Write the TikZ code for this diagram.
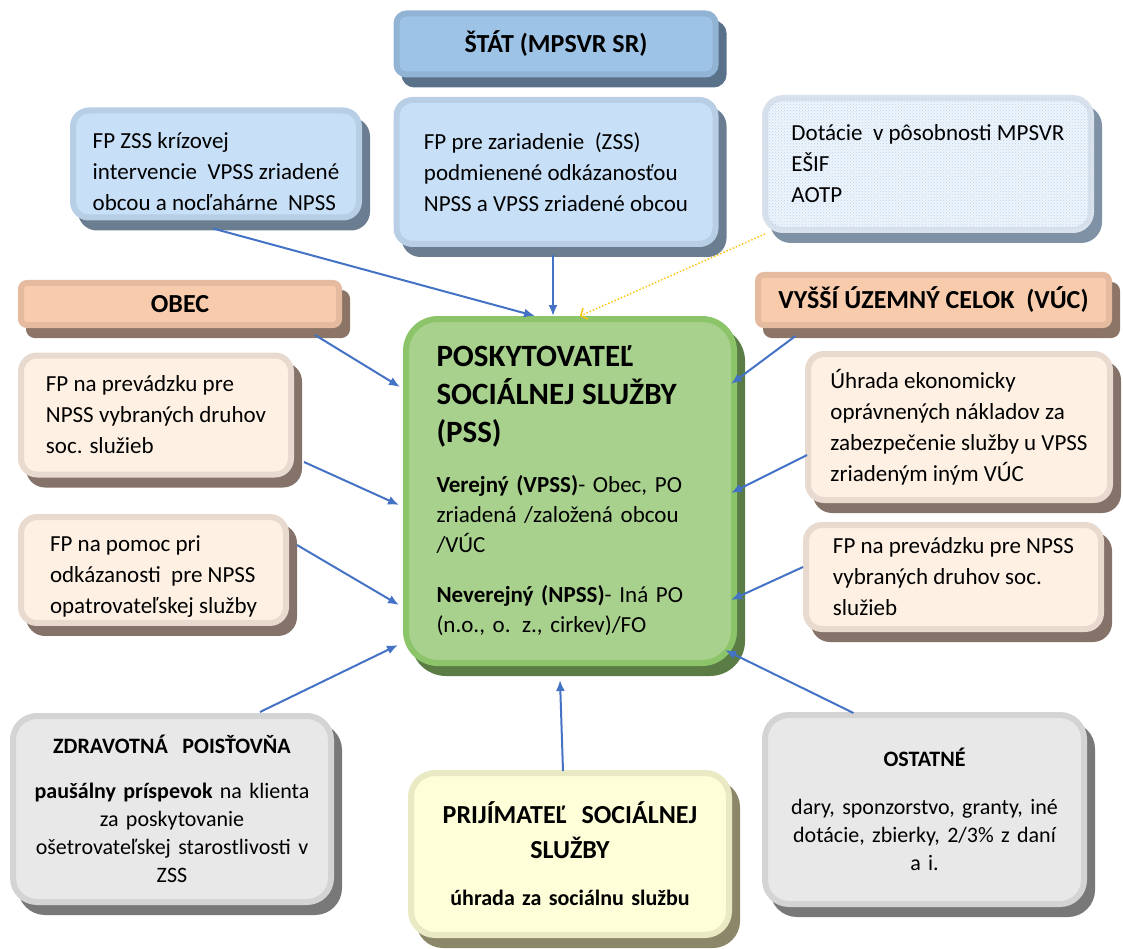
\documentclass[tikz,border=0pt]{standalone}
\usepackage{fontspec}
\setmainfont{Carlito}
\usetikzlibrary{arrows.meta,patterns}

\definecolor{flowblue}{HTML}{4472C4}
\definecolor{aotporange}{HTML}{FFC000}
\definecolor{headblue}{HTML}{9DC3E6}\definecolor{headbluedark}{HTML}{5A718A}
\definecolor{lblue}{HTML}{C8E0F7}\definecolor{lbluedark}{HTML}{6A7D91}
\definecolor{dblue}{HTML}{EDF4FC}\definecolor{dbluedots}{HTML}{BDD3EB}\definecolor{dbluedark}{HTML}{7E91A5}
\definecolor{headpeach}{HTML}{F8CBAD}\definecolor{headpeachdark}{HTML}{8C7467}
\definecolor{lpeach}{HTML}{FEF1E4}\definecolor{lpeachdark}{HTML}{857269}
\definecolor{pssgreen}{HTML}{A9D18E}\definecolor{pssgreendark}{HTML}{5B7D45}\definecolor{pssgreenrim}{HTML}{8CC46A}
\definecolor{lgray}{HTML}{E8E8E8}\definecolor{lgraydark}{HTML}{787878}
\definecolor{lyellow}{HTML}{FEFED8}\definecolor{lyellowdark}{HTML}{8C8769}

\tikzset{
  bevel/.style 2 args={line width=6pt, inner sep=6pt, fill=#1, draw=#1!82!#2,
    preaction={fill=#2, draw=#2, transform canvas={shift={(8pt,-10pt)}}}},
  headfont/.style={font=\fontsize{26}{31}\selectfont\bfseries},
  bodyfont/.style={font=\fontsize{23}{31}\selectfont},
  smallfont/.style={font=\fontsize{22}{28}\selectfont},
  bluehead/.style={bevel={headblue}{headbluedark}, rounded corners=10pt, headfont},
  bluebox/.style={bevel={lblue}{lbluedark}, rounded corners=16pt, align=left, bodyfont},
  dotbox/.style={bevel={dblue}{dbluedark}, rounded corners=18pt, align=left, bodyfont,
    postaction={pattern=crosshatch dots, pattern color=dbluedots}},
  peachhead/.style={bevel={headpeach}{headpeachdark}, rounded corners=6pt, headfont},
  peachbox/.style={bevel={lpeach}{lpeachdark}, rounded corners=16pt, align=left, bodyfont},
  greenbox/.style={bevel={pssgreen}{pssgreendark}, draw=pssgreenrim, rounded corners=32pt,
    text width=267pt, font=\fontsize{23}{30}\selectfont, execute at begin node={\raggedright}},
  graybox/.style={bevel={lgray}{lgraydark}, rounded corners=24pt,
    text width=300pt, smallfont, execute at begin node={\centering}},
  yellowbox/.style={bevel={lyellow}{lyellowdark}, rounded corners=24pt,
    text width=300pt, smallfont, execute at begin node={\centering}},
  flow/.style={flowblue, line width=2pt, -{Latex[length=11pt,width=9pt]}},
  aotp/.style={aotporange, line width=1.4pt, dotted, -{Straight Barb[length=5pt,width=12pt]}}
}

\begin{document}
\begin{tikzpicture}[x=1pt,y=-1pt]
\useasboundingbox (0,0) rectangle (1123,949);

\node[bluehead, minimum width=319pt, minimum height=61pt] (stat) at (556,44) {ŠTÁT (MPSVR SR)};
\node[bluebox, minimum width=319pt, minimum height=144pt] (zar) at (556,172)
  {FP pre zariadenie\ \ (ZSS)\\ podmienené odkázanosťou\\ NPSS a VPSS zriadené obcou};
\node[bluebox, minimum width=286pt, minimum height=107pt] (kriz) at (216,164)
  {\rule{0pt}{31pt}FP ZSS krízovej\\ intervencie\ \ VPSS zriadené\\ obcou a nocľahárne\ \ NPSS};
\node[dotbox, minimum width=326pt, minimum height=132pt] (dotacie) at (928,164)
  {Dotácie\ \ v pôsobnosti MPSVR\\ EŠIF\\ AOTP};

\node[peachhead, minimum width=318pt, minimum height=42pt] (obec) at (180,304) {OBEC};
\node[peachhead, minimum width=351pt, minimum height=50pt] (vuc) at (933.5,300) {VYŠŠÍ ÚZEMNÝ CELOK\ \ (VÚC)};

\node[peachbox, minimum width=270pt, minimum height=119pt] (obecA) at (156,415)
  {FP na prevádzku pre\\ NPSS vybraných druhov\\ soc. služieb};
\node[peachbox, minimum width=265pt, minimum height=104pt] (obecB) at (153.5,570)
  {\rule{0pt}{28pt}FP na pomoc pri\\ odkázanosti\ \ pre NPSS\\ opatrovateľskej služby};
\node[peachbox, minimum width=302pt, minimum height=146pt] (vucA) at (959,427)
  {Úhrada ekonomicky\\ oprávnených nákladov za\\ zabezpečenie služby u VPSS\\ zriadeným iným VÚC};
\node[peachbox, minimum width=295pt, minimum height=104pt] (vucB) at (953.5,577)
  {FP na prevádzku pre NPSS\\ vybraných druhov soc.\\ služieb};

\node[greenbox, minimum width=328pt, minimum height=344pt] (pss) at (570,491)
  {{\fontsize{31}{38}\selectfont\bfseries POSKYTOVATEĽ\\ SOCIÁLNEJ SLUŽBY\\ (PSS)\par}\vspace{20pt}
   {\bfseries Verejný (VPSS)}- Obec, PO\\ zriadená /založená obcou\\ /VÚC\par\vspace{20pt}
   {\bfseries Neverejný (NPSS)}- Iná PO\\ (n.o., o. z., cirkev)/FO};

\node[graybox, minimum width=318pt, minimum height=186pt] (zp) at (172,809)
  {{\bfseries ZDRAVOTNÁ\ \ POISŤOVŇA\par}\vspace{17pt}
   {\bfseries paušálny príspevok} na klienta\\ za poskytovanie\\ ošetrovateľskej starostlivosti v\\ ZSS};
\node[yellowbox, minimum width=318pt, minimum height=162pt] (prij) at (570,854)
  {{\fontsize{26}{35}\selectfont\bfseries PRIJÍMATEĽ\ \ SOCIÁLNEJ\\ SLUŽBY\par}\vspace{19pt}
   {\bfseries úhrada za sociálnu službu}\par\vspace{8pt}};
\node[graybox, minimum width=319pt, minimum height=189pt] (ost) at (924.5,809.5)
  {{\bfseries OSTATNÉ\par}\vspace{20pt}
   dary, sponzorstvo, granty, iné\\ dotácie, zbierky, 2/3\% z daní\\ a i.\par\vspace{18pt}};

\draw[flow] ([shift={(-3,8)}]kriz.south) -- ([shift={(-35,0)}]pss.north);
\draw[flow] ([shift={(-3,8)}]zar.south) -- ([shift={(-17,0)}]pss.north);
\draw[aotp] ([shift={(3,1)}]dotacie.south west) -- ([shift={(10,0)}]pss.north);
\draw[flow] ([shift={(135,7)}]obec.south) -- ([shift={(-3,-104)}]pss.west);
\draw[flow] ([shift={(10,47)}]obecA.east) -- ([shift={(-4,14)}]pss.west);
\draw[flow] ([shift={(8,-25)}]obecB.east) -- ([shift={(-4,114)}]pss.west);
\draw[flow] ([shift={(88,-1)}]zp.north) -- ([shift={(-5,154)}]pss.west);
\draw[flow] ([shift={(-7,1)}]prij.north) -- ([shift={(-10,14)}]pss.south);
\draw[flow] ([shift={(-71,1)}]ost.north) -- ([shift={(-12,159)}]pss.east);
\draw[flow] ([shift={(0,-10)}]vucB.west) -- ([shift={(-6,109)}]pss.east);
\draw[flow] ([shift={(2,28)}]vucA.west) -- ([shift={(-6,2)}]pss.east);
\draw[flow] ([shift={(-138,8)}]vuc.south) -- ([shift={(-6,-107)}]pss.east);
\end{tikzpicture}
\end{document}
